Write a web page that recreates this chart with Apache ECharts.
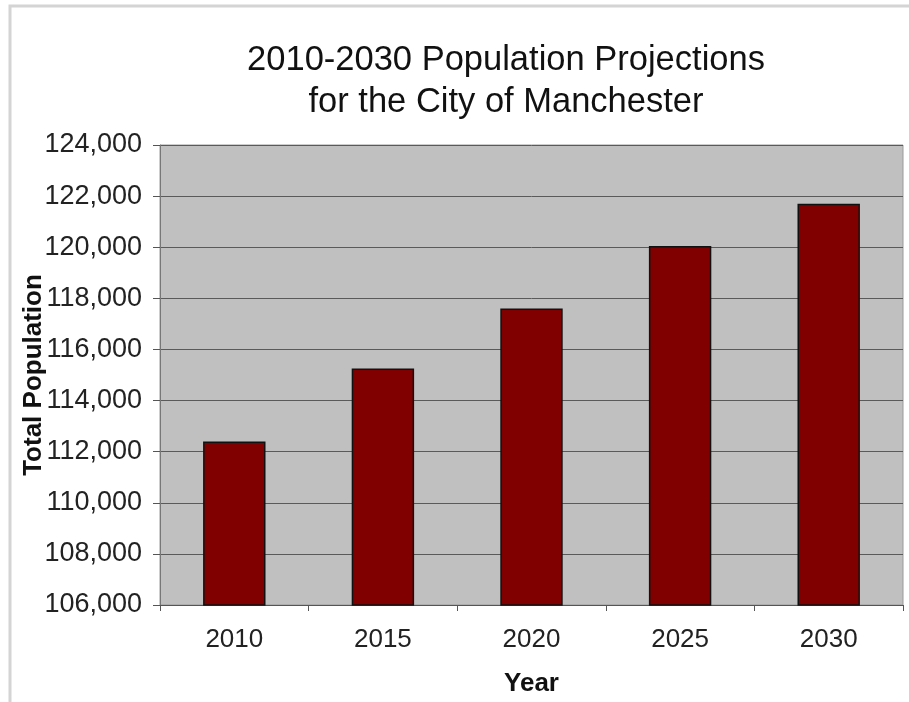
<!DOCTYPE html>
<html>
<head>
<meta charset="utf-8">
<script src="https://cdn.jsdelivr.net/npm/echarts@6/dist/echarts.min.js"></script>
<style>
  html, body { margin: 0; padding: 0; background: #ffffff; }
  #chart { width: 909px; height: 702px; }
</style>
</head>
<body>
<div id="chart"></div>
<script>
// Projected population by year
const years = ['2010', '2015', '2020', '2025', '2030'];
const population = [112400, 115250, 117600, 120050, 121700];

// Value axis range
const yMin = 106000;
const yMax = 124000;
const yStep = 2000;

const chart = echarts.init(document.getElementById('chart'));

const fmt = v => v.toLocaleString('en-US');
const FONT = 'Liberation Sans, Arial, sans-serif';

chart.setOption({
  backgroundColor: '#ffffff',
  animation: false,
  title: {
    text: '2010-2030 Population Projections\nfor the City of Manchester',
    left: 501,
    top: 34,
    textAlign: 'center',
    textStyle: {
      fontFamily: FONT,
      fontSize: 34.5,
      fontWeight: 'normal',
      lineHeight: 42,
      color: '#111'
    }
  },
  graphic: [
    {
      type: 'rect',
      shape: { x: 10, y: 6, width: 1000, height: 800 },
      style: { fill: 'none', stroke: '#d4d4d4', lineWidth: 3 },
      silent: true
    }
  ],
  grid: {
    left: 160,
    right: 6,
    top: 145,
    bottom: 95,
    show: true,
    backgroundColor: '#c0c0c0',
    borderColor: '#9a9a9a',
    borderWidth: 1
  },
  xAxis: {
    type: 'category',
    data: years,
    name: 'Year',
    nameLocation: 'middle',
    nameGap: 66,
    nameTextStyle: {
      fontFamily: FONT,
      fontSize: 26,
      fontWeight: 'bold',
      color: '#111'
    },
    axisLine: { show: true, lineStyle: { color: '#555', width: 1 } },
    axisTick: { show: true, alignWithLabel: false, inside: false, length: 6, lineStyle: { color: '#555' } },
    axisLabel: {
      margin: 22,
      fontFamily: FONT,
      fontSize: 26,
      color: '#222'
    }
  },
  yAxis: {
    type: 'value',
    min: yMin,
    max: yMax,
    interval: yStep,
    name: 'Total Population',
    nameLocation: 'middle',
    nameGap: 113,
    nameMoveOverlap: false,
    nameTextStyle: {
      fontFamily: FONT,
      fontSize: 26,
      fontWeight: 'bold',
      color: '#111'
    },
    axisLine: { show: true, lineStyle: { color: '#777', width: 1 } },
    axisTick: { show: true, inside: false, length: 7, lineStyle: { color: '#555' } },
    axisLabel: {
      margin: 18,
      formatter: fmt,
      fontFamily: FONT,
      fontSize: 27,
      color: '#222'
    },
    splitLine: { show: true, lineStyle: { color: '#5a5a5a', width: 1 } }
  },
  series: [
    {
      type: 'bar',
      data: population,
      barWidth: '42%',
      itemStyle: {
        color: '#800000',
        borderColor: '#111',
        borderWidth: 1.5
      }
    }
  ]
});
</script>
</body>
</html>
